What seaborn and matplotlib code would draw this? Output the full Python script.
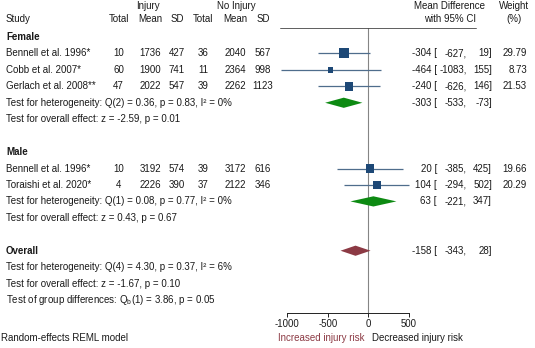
import matplotlib
matplotlib.use("Agg")
import matplotlib.pyplot as plt
from matplotlib.lines import Line2D
import numpy as np
import pandas as pd
import seaborn as sns

# ---- study-level data -------------------------------------------------------
studies = ["Bennell et al. 1996*", "Cobb et al. 2007*", "Gerlach et al. 2008**",
           "Bennell et al. 1996*", "Toraishi et al. 2020*"]
groups = ["Female", "Female", "Female", "Male", "Male"]
inj_total = [10, 60, 47, 10, 4]
inj_mean = [1736, 1900, 2022, 3192, 2226]
inj_sd = [427, 741, 547, 574, 390]
ctl_total = [36, 11, 39, 39, 37]
ctl_mean = [2040, 2364, 2262, 3172, 2122]
ctl_sd = [567, 998, 1123, 616, 346]
mean_diff = [-304, -464, -240, 20, 104]
ci_low = [-627, -1083, -626, -385, -294]
ci_high = [19, 155, 146, 425, 502]
weights = [29.79, 8.73, 21.53, 19.66, 20.29]

# ---- pooled estimates -------------------------------------------------------
pooled_labels = ["Female", "Male", "Overall"]
pooled_est = [-303, 63, -158]
pooled_low = [-533, -221, -343]
pooled_high = [-73, 347, 28]

het_text = ["Test for heterogeneity: Q(2) = 0.36, p = 0.83, I² = 0%",
            "Test for heterogeneity: Q(1) = 0.08, p = 0.77, I² = 0%",
            "Test for heterogeneity: Q(4) = 4.30, p = 0.37, I² = 6%"]
effect_text = ["Test for overall effect: z = -2.59, p = 0.01",
               "Test for overall effect: z = 0.43, p = 0.67",
               "Test for overall effect: z = -1.67, p = 0.10"]
group_diff_text = r"Test of group differences: Q$_{\rm b}$(1) = 3.86, p = 0.05"
x_ticks = [-1000, -500, 0, 500]

# ---- layout -----------------------------------------------------------------
W, H = 535, 348
study_rows = [1, 2, 3, 8, 9]
header_rows = [0, 7, 13]
pooled_rows = [4, 10, 13]
het_rows = [4, 10, 14]
effect_rows = [5, 11, 15]
group_diff_row = 16

ROW0, ROWH = 37.0, 16.44          # pixel y of row 0 and row pitch
X0_PX, PX_PER_UNIT = 368.3, 0.081  # pixel x of zero and scale of the effect axis

def ry(r):
    return ROW0 + ROWH * r

sns.set_theme(style="white")
plt.rcParams["font.family"] = ["Liberation Sans", "DejaVu Sans"]
plt.rcParams["mathtext.fontset"] = "custom"
plt.rcParams["mathtext.rm"] = "Liberation Sans"
plt.rcParams["mathtext.it"] = "Liberation Sans:italic"
plt.rcParams["mathtext.bf"] = "Liberation Sans:bold"

FS = 7.0
fig = plt.figure(figsize=(W / 100, H / 100), dpi=100)
fig.patch.set_facecolor("white")

def put(x, y, s, ha="left", **kw):
    kw.setdefault("fontsize", FS)
    kw.setdefault("color", "#1a1a1a")
    fig.text(x / W, 1 - y / H, s, ha=ha, va="center", **kw)

# header
put(148, 6, "Injury", ha="center")
put(236, 6, "No Injury", ha="center")
put(6, 19, "Study")
for x, s in [(118.5, "Total"), (150, "Mean"), (177, "SD"),
             (203, "Total"), (235, "Mean"), (263, "SD")]:
    put(x, 19, s, ha="center")
put(450, 6, "Mean Difference", ha="center")
put(450, 19, "with 95% CI", ha="center")
put(514, 6, "Weight", ha="center")
put(514, 19, "(%)", ha="center")

# group headings
for r, lab in zip(header_rows, pooled_labels):
    put(6, ry(r), lab, fontweight="bold")

# study rows
for i, r in enumerate(study_rows):
    y = ry(r)
    put(6, y, studies[i])
    put(118.5, y, f"{inj_total[i]}", ha="center")
    put(150, y, f"{inj_mean[i]}", ha="center")
    put(177, y, f"{inj_sd[i]}", ha="center")
    put(203, y, f"{ctl_total[i]}", ha="center")
    put(235, y, f"{ctl_mean[i]}", ha="center")
    put(263, y, f"{ctl_sd[i]}", ha="center")
    put(437, y, f"{mean_diff[i]} [", ha="right")
    put(467, y, f"{ci_low[i]},", ha="right")
    put(492, y, f"{ci_high[i]}]", ha="right")
    put(527, y, f"{weights[i]:.2f}", ha="right")

# pooled estimate text
for r, e, lo, hi in zip(pooled_rows, pooled_est, pooled_low, pooled_high):
    y = ry(r)
    put(437, y, f"{e} [", ha="right")
    put(467, y, f"{lo},", ha="right")
    put(492, y, f"{hi}]", ha="right")

for r, s in zip(het_rows, het_text):
    put(6, ry(r), s)
for r, s in zip(effect_rows, effect_text):
    put(6, ry(r), s)
put(6, ry(group_diff_row), group_diff_text)
put(1, 338, "Random-effects REML model", fontsize=7.0)

# ---- forest panel -----------------------------------------------------------
left_px, right_px, top_px, bot_px = 270, 430, 28, 313
ax = fig.add_axes([left_px / W, 1 - bot_px / H,
                   (right_px - left_px) / W, (bot_px - top_px) / H])
ax.set_facecolor("none")
ax.set_xlim((left_px - X0_PX) / PX_PER_UNIT, (right_px - X0_PX) / PX_PER_UNIT)
ax.set_ylim((bot_px - ROW0) / ROWH, (top_px - ROW0) / ROWH)

ax.axvline(0, color="#858585", lw=0.8, zorder=1)

df = pd.DataFrame({"md": mean_diff, "lo": ci_low, "hi": ci_high,
                   "w": weights, "row": study_rows})
ax.hlines(df["row"], df["lo"], df["hi"], color="#4f6d8c", lw=0.9, zorder=2)
k = 1.774
sns.scatterplot(data=df, x="md", y="row", size="w",
                sizes=(k * min(weights), k * max(weights)),
                marker="s", color="#1d4876", edgecolor="none",
                legend=False, ax=ax, zorder=3)

dh = 0.31
diamond_colors = ["#0d8a12", "#0d8a12", "#8c3a44"]
for r, e, lo, hi, c in zip(pooled_rows, pooled_est, pooled_low, pooled_high,
                           diamond_colors):
    ax.fill([lo, e, hi, e], [r, r - dh, r, r + dh], color=c, lw=0, zorder=3)

for s in ["top", "left", "right"]:
    ax.spines[s].set_visible(False)
ax.spines["bottom"].set_bounds(x_ticks[0], x_ticks[-1])
ax.spines["bottom"].set_color("#222222")
ax.spines["bottom"].set_linewidth(0.7)
ax.set_xticks(x_ticks)
ax.set_xticklabels([str(t) for t in x_ticks])
ax.tick_params(axis="x", direction="out", length=3, width=0.7, color="#222222",
               labelsize=6.9, pad=1.5, labelcolor="#1a1a1a", bottom=True)
ax.set_yticks([])
ax.set_xlabel("")
ax.set_ylabel("")

# rule under the header across the forest panel
fig.add_artist(Line2D([280 / W, 476 / W], [1 - top_px / H] * 2,
                      transform=fig.transFigure, color="#444444", lw=0.6))

put(364, 338, "Increased injury risk", ha="right", color="#8c3a44", fontsize=7.0)
put(372, 338, "Decreased injury risk", fontsize=7.0)

fig.savefig("out.png", dpi=100, facecolor="white")
